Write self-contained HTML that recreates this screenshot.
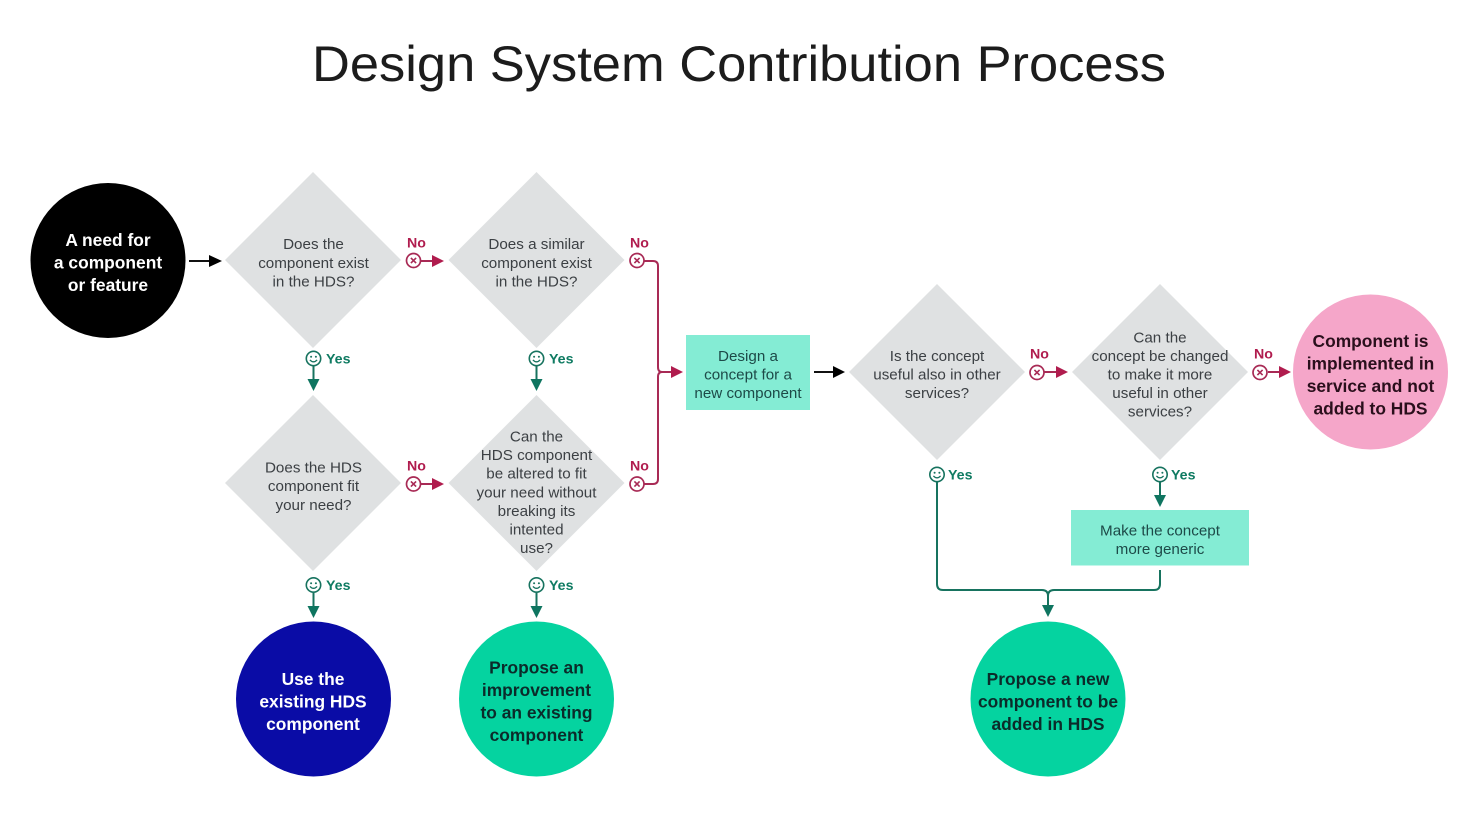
<!DOCTYPE html>
<html><head><meta charset="utf-8"><style>
html,body{margin:0;padding:0;background:#fff}
svg{display:block;font-family:"Liberation Sans",sans-serif}
.q{font-size:15.2px;fill:#3c4044;text-anchor:middle}
.r{font-size:15.2px;fill:#1d4a48;text-anchor:middle}
.b{font-size:17.4px;font-weight:bold;text-anchor:middle}
.no{font-size:14.2px;font-weight:bold;fill:#b01c4e}
.yes{font-size:14.2px;font-weight:bold;fill:#0f7b62}
.nl{fill:none;stroke:#a82a55;stroke-width:2}
.yl{fill:none;stroke:#17735f;stroke-width:2}
</style></head><body>
<svg width="1483" height="819" viewBox="0 0 1483 819" xmlns="http://www.w3.org/2000/svg">
<defs>
<g id="x"><circle r="7" fill="none" stroke="#a82a55" stroke-width="1.7"/><path d="M-2.6-2.6L2.6 2.6M2.6-2.6L-2.6 2.6" stroke="#a82a55" stroke-width="1.6"/></g>
<g id="s"><circle r="7.2" fill="none" stroke="#17735f" stroke-width="1.6"/><circle cx="-2.4" cy="-1.8" r="1" fill="#17735f"/><circle cx="2.4" cy="-1.8" r="1" fill="#17735f"/><path d="M-3.6 1.4Q0 5.2 3.6 1.4" fill="none" stroke="#17735f" stroke-width="1.3"/></g>
</defs>
<rect width="1483" height="819" fill="#fff"/>
<text x="739" y="81" text-anchor="middle" font-size="50" fill="#1c1c1c" textLength="854" lengthAdjust="spacingAndGlyphs">Design System Contribution Process</text>

<g fill="#dfe1e2">
<polygon points="313,172 401,260 313,348 225,260"/>
<polygon points="536.500,172 624.500,260 536.500,348 448.500,260"/>
<polygon points="313,395 401,483 313,571 225,483"/>
<polygon points="536.500,395 624.500,483 536.500,571 448.500,483"/>
<polygon points="937,284 1025,372 937,460 849,372"/>
<polygon points="1160,284 1248,372 1160,460 1072,372"/>
</g>
<circle cx="108" cy="260.500" r="77.500" fill="#000"/>
<circle cx="313.500" cy="699" r="77.500" fill="#0a0ca6"/>
<circle cx="536.500" cy="699" r="77.500" fill="#05d3a0"/>
<circle cx="1048" cy="699" r="77.500" fill="#05d3a0"/>
<circle cx="1370.500" cy="372" r="77.500" fill="#f5a6c9"/>
<rect x="686" y="335" width="124" height="75" fill="#84ecd4"/>
<rect x="1071" y="510" width="178" height="55.500" fill="#84ecd4"/>

<g class="b" fill="#fff">
<text x="108" y="246">A need for</text><text x="108" y="268.500">a component</text><text x="108" y="291">or feature</text>
<text x="313" y="685">Use the</text><text x="313" y="707.500">existing HDS</text><text x="313" y="730">component</text>
</g>
<g class="b" fill="#0b2b2a">
<text x="536.500" y="673.500">Propose an</text><text x="536.500" y="696">improvement</text><text x="536.500" y="718.500">to an existing</text><text x="536.500" y="741">component</text>
<text x="1048" y="685">Propose a new</text><text x="1048" y="707.500">component to be</text><text x="1048" y="730">added in HDS</text>
</g>
<g class="b" fill="#2a0f1c">
<text x="1370.500" y="347">Component is</text><text x="1370.500" y="369.500">implemented in</text><text x="1370.500" y="392">service and not</text><text x="1370.500" y="414.500">added to HDS</text>
</g>

<g class="q">
<text x="313.500" y="249">Does the</text><text x="313.500" y="268">component exist</text><text x="313.500" y="286.500">in the HDS?</text>
<text x="536.500" y="249">Does a similar</text><text x="536.500" y="268">component exist</text><text x="536.500" y="286.500">in the HDS?</text>
<text x="313.500" y="472.500">Does the HDS</text><text x="313.500" y="491">component fit</text><text x="313.500" y="510">your need?</text>
<text x="536.500" y="441.500">Can the</text><text x="536.500" y="460">HDS component</text><text x="536.500" y="478.500">be altered to fit</text><text x="536.500" y="497.500">your need without</text><text x="536.500" y="516">breaking its</text><text x="536.500" y="534.500">intented</text><text x="536.500" y="553">use?</text>
<text x="937" y="361">Is the concept</text><text x="937" y="379.500">useful also in other</text><text x="937" y="398">services?</text>
<text x="1160" y="342.500">Can the</text><text x="1160" y="361">concept be changed</text><text x="1160" y="379.500">to make it more</text><text x="1160" y="398">useful in other</text><text x="1160" y="416.500">services?</text>
</g>
<g class="r">
<text x="748" y="361">Design a</text><text x="748" y="379.500">concept for a</text><text x="748" y="398">new component</text>
<text x="1160" y="535.500">Make the concept</text><text x="1160" y="554">more generic</text>
</g>

<!-- black arrows -->
<path d="M189 261H210M814 372H834" stroke="#111" stroke-width="2"/>
<path d="M209 255L222 261L209 267ZM833 366L845 372L833 378Z" fill="#000"/>

<!-- No connectors -->
<path class="nl" d="M421 261H434M1044 372H1057M1268 372H1281M421 484H434"/>
<path d="M432 255L444 261L432 267ZM432 478L444 484L432 490ZM1056 366L1068 372L1056 378ZM1279 366L1291 372L1279 378Z" fill="#b01c4e"/>
<path class="nl" d="M644 261H653Q658 261 658 266V367Q658 372 662 372H674M644 484H653Q658 484 658 479V377Q658 372 662 372"/>
<path d="M671 366L683 372L671 378Z" fill="#b01c4e"/>
<use href="#x" x="413.500" y="260.500"/><use href="#x" x="637" y="260.500"/>
<use href="#x" x="413.500" y="484"/><use href="#x" x="637" y="484"/>
<use href="#x" x="1037" y="372.500"/><use href="#x" x="1260" y="372.500"/>
<text class="no" x="407" y="247.500">No</text><text class="no" x="630" y="247.500">No</text>
<text class="no" x="407" y="470.500">No</text><text class="no" x="630" y="470.500">No</text>
<text class="no" x="1030" y="358.500">No</text><text class="no" x="1254" y="358.500">No</text>

<!-- Yes connectors -->
<path class="yl" d="M313.500 366V381M536.500 366V381M313.500 593V608M536.500 593V608M1160 482V497"/>
<path d="M307.500 379L313.500 391L319.500 379ZM530.500 379L536.500 391L542.500 379ZM307.500 606L313.500 618L319.500 606ZM530.500 606L536.500 618L542.500 606ZM1154 495L1160 507L1166 495ZM1042 605L1048 617L1054 605Z" fill="#0f7560"/>
<path class="yl" d="M937 482V584Q937 590 943 590H1042Q1048 590 1048 596V607M1160 570V584Q1160 590 1154 590H1054Q1048 590 1048 596"/>
<use href="#s" x="313.500" y="358.500"/><use href="#s" x="536.500" y="358.500"/>
<use href="#s" x="313.500" y="585"/><use href="#s" x="536.500" y="585"/>
<use href="#s" x="937" y="474.500"/><use href="#s" x="1160" y="474.500"/>
<text class="yes" x="326" y="363.500">Yes</text><text class="yes" x="549" y="363.500">Yes</text>
<text class="yes" x="326" y="590">Yes</text><text class="yes" x="549" y="590">Yes</text>
<text class="yes" x="948" y="479.500">Yes</text><text class="yes" x="1171" y="479.500">Yes</text>
</svg>
</body></html>
